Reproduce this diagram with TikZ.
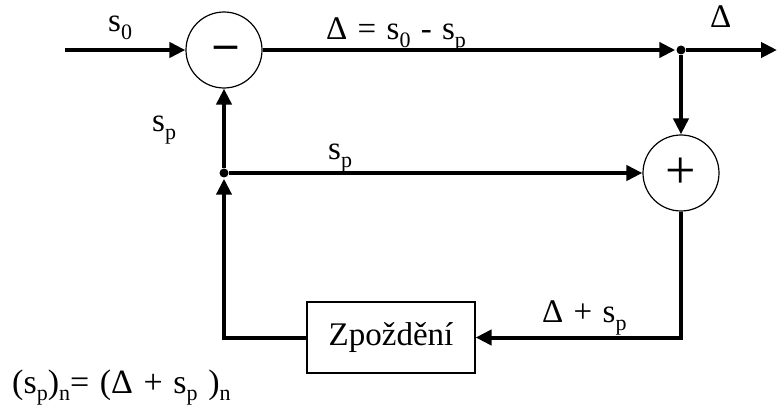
\documentclass[tikz,border=0pt]{standalone}
\usepackage{fontspec}
\setmainfont{Liberation Serif}
\newfontfamily\lblfont{Liberation Serif}[WordSpace=1.25]
\usetikzlibrary{arrows.meta}
\newcommand\lsub[1]{\raisebox{-0.22em}{\fontsize{22}{22}\selectfont #1}}
\begin{document}
\begin{tikzpicture}[x=1pt,y=-1pt,
  sig/.style={line width=4pt,-{Triangle[length=16pt,width=15pt]}},
  sumnode/.style={circle,draw,line width=1.2pt,minimum size=76pt,inner sep=0pt},
  blockbox/.style={draw,line width=1.2pt,minimum width=168pt,minimum height=71pt,inner sep=0pt},
  lbl/.style={inner sep=0pt,anchor=base west,font=\lblfont\fontsize{33}{35}\selectfont},
  jdot/.style={circle,fill,inner sep=0pt,minimum size=9pt}]
\useasboundingbox (0,0) rectangle (777,406);
% blocks
\node[sumnode] (minus) at (224,50) {};
\node[font=\fontsize{46}{46}\selectfont\bfseries,inner sep=0pt] (minussign) at (226,52) {–};
\node[sumnode,font=\fontsize{54}{54}\selectfont] (plus) at (681,173) {+};
\node[blockbox,font=\fontsize{33}{35}\selectfont] (delay) at (391,337.5) {Zpoždění};
% coordinates
\coordinate (in) at (65,50);
\coordinate (out) at (777,50);
\node[jdot] (j1) at (681,50) {};
\node[jdot] (j2) at (224,173) {};
\coordinate (c1) at (681,337.5);
\coordinate (c2) at (224,337.5);
% connectors
\draw[sig] (in) -- (minus.west);
\draw[sig,shorten >=1pt] (minus.east) -- (j1);
\draw[sig] (j1) -- (out);
\draw[sig] (j1) -- (plus.north);
\draw[sig] (j2) -- (plus.west);
\draw[sig] (j2) -- (minus.south);
\draw[sig] (plus.south) -- (c1) -- (delay.east);
\draw[sig,shorten >=1pt] (delay.west) -- (c2) -- (j2);
% labels
\node[lbl] (ls0) at (108,32) {s\lsub{0}};
\node[lbl] (ldiff) at (326,40) {Δ = s\lsub{0} - s\lsub{p}};
\node[lbl] (ldelta) at (710,28) {Δ};
\node[lbl] (lsp1) at (152,132) {s\lsub{p}};
\node[lbl] (lsp2) at (328,160) {s\lsub{p}};
\node[lbl] (lsum) at (542,323) {Δ + s\lsub{p}};
\node[lbl,font=\lblfont\fontsize{34}{36}\selectfont] (formula) at (12,393) {(s\lsub{p})\lsub{n}= (Δ + s\lsub{p} )\lsub{n}};
\end{tikzpicture}
\end{document}
